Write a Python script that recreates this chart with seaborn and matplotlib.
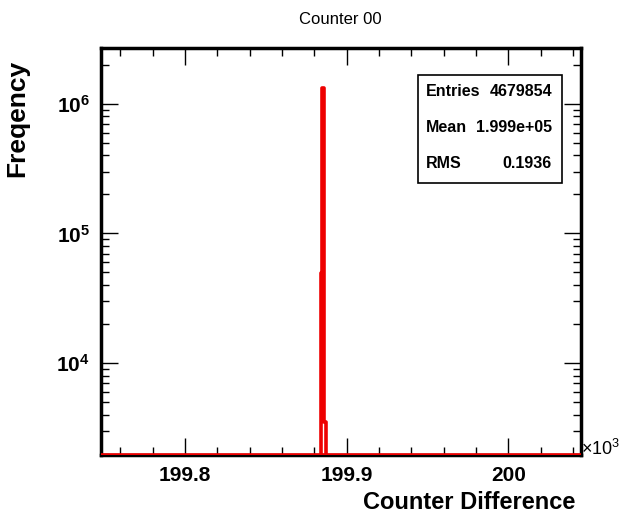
import numpy as np
import pandas as pd
import matplotlib
matplotlib.use("Agg")
import matplotlib.pyplot as plt
import seaborn as sns
from matplotlib.ticker import FixedLocator, LogLocator, NullFormatter

# ---- data ----
bin_centers = [199883.5, 199884.5, 199885.5, 199886.5, 199887.5]
bin_counts = [0, 49500, 1330000, 3500, 0]
bin_edges = [199883, 199884, 199885, 199886, 199887, 199888]
x_ticks = [199800, 199900, 200000]
x_tick_labels = ["199.8", "199.9", "200"]
stats_names = ["Entries", "Mean", "RMS"]
stats_values = ["4679854", "1.999e+05", "0.1936"]

sns.set_style("ticks")
plt.rcParams["font.family"] = ["Liberation Sans", "DejaVu Sans"]
plt.rcParams["text.color"] = "black"
plt.rcParams["xtick.color"] = "black"
plt.rcParams["ytick.color"] = "black"
plt.rcParams["mathtext.fontset"] = "custom"
plt.rcParams["mathtext.rm"] = "Liberation Sans"
plt.rcParams["mathtext.bf"] = "Liberation Sans:bold"
plt.rcParams["mathtext.default"] = "regular"

fig = plt.figure(figsize=(6.23, 5.20), dpi=100)
ax = fig.add_axes([0.162, 0.125, 0.7706, 0.7827])

df = pd.DataFrame({"x": bin_centers, "w": bin_counts})
ax.set_yscale("log")
sns.histplot(data=df, x="x", weights="w", bins=bin_edges, element="step",
             fill=False, color="#ee0000", linewidth=2.6, ax=ax)

xmin, xmax = 199748, 200045
ymin, ymax = 1950, 2.7e6
ax.set_xlim(xmin, xmax)
ax.set_ylim(ymin, ymax)
ax.axhline(ymin, color="#ee0000", linewidth=2.6, zorder=3)

# ticks
ax.xaxis.set_major_locator(FixedLocator(x_ticks))
ax.set_xticklabels(x_tick_labels)
ax.xaxis.set_minor_locator(FixedLocator(np.arange(199760, 200045, 20)))
ax.yaxis.set_major_locator(LogLocator(base=10))
ax.yaxis.set_minor_locator(LogLocator(base=10, subs=np.arange(2, 10)))
ax.yaxis.set_minor_formatter(NullFormatter())
ax.tick_params(which="both", direction="in", top=True, right=True, width=1.0,
               color="black", labelcolor="black")
ax.tick_params(which="major", length=12, labelsize=15, pad=8)
ax.tick_params(which="minor", length=6)
for lab in ax.get_xticklabels() + ax.get_yticklabels():
    lab.set_fontweight("bold")

for s in ax.spines.values():
    s.set_linewidth(2.5)
    s.set_color("black")

ax.set_xlabel("")
ax.set_ylabel("")
fig.text(0.923, 0.012, "Counter Difference", ha="right", va="bottom",
         fontsize=17, fontweight="bold")
fig.text(0.027, 0.885, "Freqency", ha="center", va="top", rotation=90,
         fontsize=19, fontweight="bold")
fig.text(0.546, 0.962, "Counter 00", ha="center", va="center", fontsize=12)
fig.text(0.933, 0.137, r"$\times10^{3}$", ha="left", va="center", fontsize=13)

# stats box
bx0, by0, bx1, by1 = 418 / 623, 1 - 183 / 520, 562 / 623, 1 - 75 / 520
fig.patches.append(plt.Rectangle((bx0, by0), bx1 - bx0, by1 - by0,
                                 transform=fig.transFigure, fill=True,
                                 facecolor="white", edgecolor="black",
                                 linewidth=1.2, zorder=5))
rows_y = [92, 128, 164]
for name, val, yy in zip(stats_names, stats_values, rows_y):
    fig.text(426 / 623, 1 - yy / 520, name, ha="left", va="center",
             fontsize=11.5, fontweight="bold", zorder=6)
    fig.text(552 / 623, 1 - yy / 520, val, ha="right", va="center",
             fontsize=11.5, fontweight="bold", zorder=6)

fig.savefig("out.png", dpi=100)
